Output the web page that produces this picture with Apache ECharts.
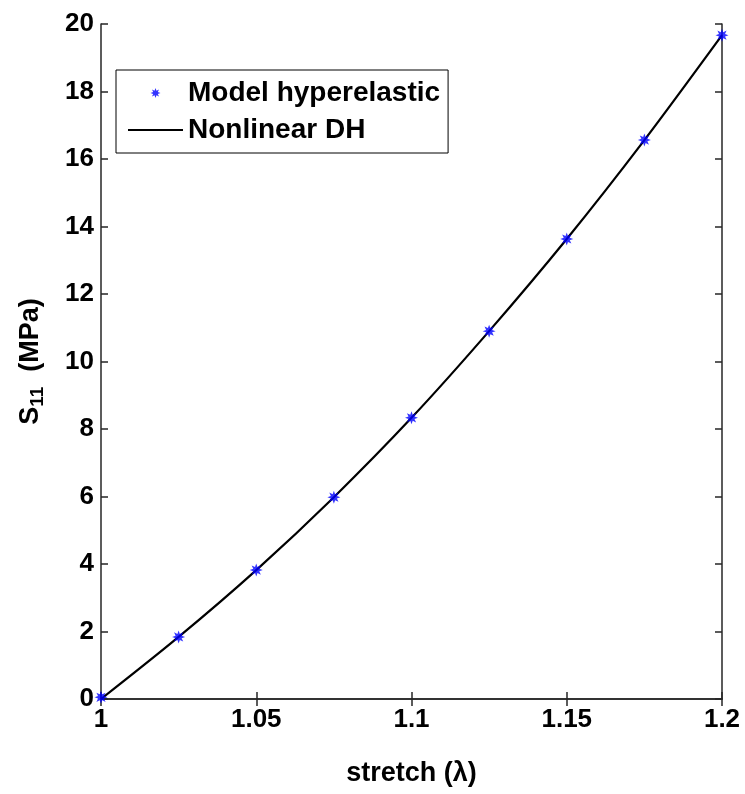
<!DOCTYPE html>
<html>
<head>
<meta charset="utf-8">
<script src="https://cdn.jsdelivr.net/npm/echarts@6/dist/echarts.min.js"></script>
<style>
html,body{margin:0;padding:0;background:#fff;}
#chart{width:745px;height:794px;}
</style>
</head>
<body>
<div id="chart"></div>
<script>
// stretch values (x) and stress S11 in MPa
var stretch = [1, 1.025, 1.05, 1.075, 1.1, 1.125, 1.15, 1.175, 1.2];
var modelHyper = [0.05, 1.84, 3.82, 5.98, 8.33, 10.9, 13.63, 16.56, 19.67];
var nonlinearDH = [0, 1.84, 3.82, 5.98, 8.33, 10.9, 13.63, 16.56, 19.67];
var xTicks = [1, 1.05, 1.1, 1.15, 1.2];
var yTicks = [0, 2, 4, 6, 8, 10, 12, 14, 16, 18, 20];

// matlab style asterisk marker (8 arms)
var star = 'path://M20,10L14.62,11.91L17.07,17.07L11.91,14.62L10,20L8.09,14.62L2.93,17.07L5.38,11.91L0,10L5.38,8.09L2.93,2.93L8.09,5.38L10,0L11.91,5.38L17.07,2.93L14.62,8.09Z';

var font = 'Liberation Sans, Arial, sans-serif';
var axisCol = '#262626';

function pairs(xs, ys){
	var out = [];
	for(var i=0;i<xs.length;i++){
		out.push([xs[i], ys[i]]);
	}
	return out;
}

var myChart = echarts.init(document.getElementById('chart'));
var option = {
	animation: false,
	backgroundColor: '#fff',
	grid: {left: 101, right: 23, top: 24, bottom: 95},
	legend: {
		orient: 'vertical',
		left: 116,
		top: 70,
		padding: [9, 8, 9, 11],
		itemGap: 9,
		itemWidth: 55,
		itemHeight: 10,
		borderColor: '#000',
		borderWidth: 1,
		backgroundColor: '#fff',
		textStyle: {fontFamily: font, fontWeight: 'bold', fontSize: 28, color: '#000'},
		data: [
			'Model hyperelastic',
			{name: 'Nonlinear DH', itemStyle: {opacity: 0}}
		]
	},
	xAxis: [
		{
			type: 'value', min: 1, max: 1.2, interval: 0.05,
			name: 'stretch (λ)', nameLocation: 'middle', nameGap: 61,
			nameTextStyle: {fontFamily: font, fontWeight: 'bold', fontSize: 27, color: '#000'},
			axisLine: {show: true, lineStyle: {color: axisCol, width: 1.5}},
			axisTick: {show: true, inside: true, length: 7, lineStyle: {color: axisCol, width: 1.5}},
			axisLabel: {
				fontFamily: font, fontWeight: 'bold', fontSize: 26, color: '#000', margin: 8,
				formatter: function(v){
					for(var i=0;i<xTicks.length;i++){
						if(Math.abs(v - xTicks[i]) < 1e-9) return String(xTicks[i]);
					}
					return '';
				}
			},
			splitLine: {show: false}
		},
		{
			type: 'value', min: 1, max: 1.2, interval: 0.05, position: 'top',
			axisLine: {show: true, lineStyle: {color: axisCol, width: 1.5}},
			axisTick: {show: true, inside: true, length: 7, lineStyle: {color: axisCol, width: 1.5}},
			axisLabel: {show: false},
			splitLine: {show: false}
		}
	],
	yAxis: [
		{
			type: 'value', min: yTicks[0], max: yTicks[yTicks.length-1], interval: 2,
			name: 'S{sub|11}  (MPa)', nameLocation: 'middle', nameGap: 54, nameRotate: 90,
			nameTextStyle: {
				fontFamily: font, fontWeight: 'bold', fontSize: 27, color: '#000',
				rich: {sub: {fontFamily: font, fontWeight: 'bold', fontSize: 19, color: '#000', verticalAlign: 'bottom', padding: [14, 0, 0, 0]}}
			},
			axisLine: {show: true, lineStyle: {color: axisCol, width: 1.5}},
			axisTick: {show: true, inside: true, length: 7, lineStyle: {color: axisCol, width: 1.5}},
			axisLabel: {fontFamily: font, fontWeight: 'bold', fontSize: 26, color: '#000', margin: 7},
			splitLine: {show: false}
		},
		{
			type: 'value', min: yTicks[0], max: yTicks[yTicks.length-1], interval: 2, position: 'right',
			axisLine: {show: true, lineStyle: {color: axisCol, width: 1.5}},
			axisTick: {show: true, inside: true, length: 7, lineStyle: {color: axisCol, width: 1.5}},
			axisLabel: {show: false},
			splitLine: {show: false}
		}
	],
	series: [
		{
			name: 'Nonlinear DH',
			type: 'line',
			smooth: 0.3,
			symbol: 'none',
			data: pairs(stretch, nonlinearDH),
			itemStyle: {color: '#000'},
			lineStyle: {color: '#000', width: 2.2},
			z: 2
		},
		{
			name: 'Model hyperelastic',
			type: 'scatter',
			symbol: star,
			symbolSize: 13,
			data: pairs(stretch, modelHyper),
			itemStyle: {color: '#0000ff'},
			z: 3
		}
	]
};
myChart.setOption(option);
</script>
</body>
</html>
